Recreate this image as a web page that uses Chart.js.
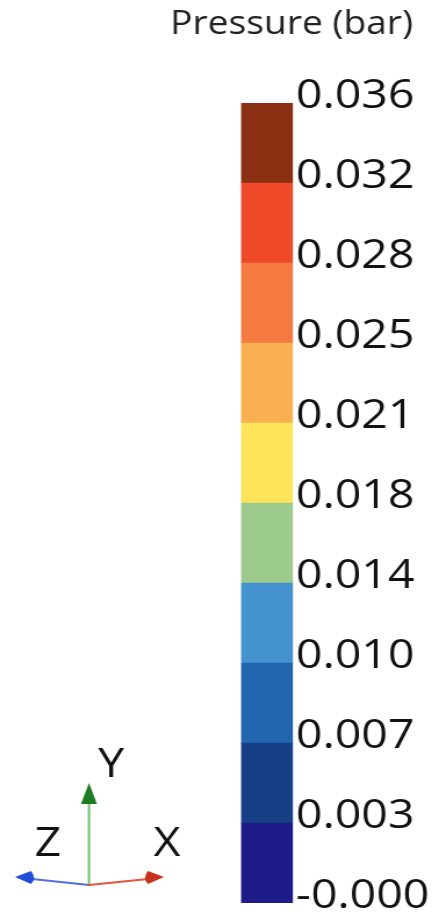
<!DOCTYPE html>
<html>
<head>
<meta charset="utf-8">
<script src="https://cdn.jsdelivr.net/npm/chart.js@4/dist/chart.umd.min.js"></script>
<style>
  html, body { margin: 0; padding: 0; background: #ffffff; overflow: hidden; }
  /* the legend is drawn on a narrower canvas and widened to the page width */
  #wrap { width: 378px; height: 916px; position: relative; transform: scaleX(1.1614); transform-origin: 0 0; }
</style>
</head>
<body>
<div id="wrap"><canvas id="c"></canvas></div>
<script>
// Colour bands of the pressure legend (bar), from low to high
const levels = [0, 0.0036, 0.0072, 0.0108, 0.0144, 0.018, 0.0216, 0.0252, 0.0288, 0.0324, 0.036];
const tickLabels = ['-0.000', '0.003', '0.007', '0.010', '0.014', '0.018', '0.021', '0.025', '0.028', '0.032', '0.036'];
const bandColors = ['#1d1b88', '#173f86', '#2265af', '#4493cf', '#9dcb8e', '#fde45a', '#f9b050', '#f47a42', '#ee4a2a', '#8a2f12'];
const categories = ['Pressure'];
const titleText = 'Pressure (bar)';

const FONT = '"Open Sans"';

const datasets = bandColors.map((color, i) => ({
  label: tickLabels[i] + ' – ' + tickLabels[i + 1],
  data: [[levels[i], levels[i + 1]]],
  backgroundColor: color,
  borderWidth: 0,
  barPercentage: 1,
  categoryPercentage: 1,
  grouped: false,
  yAxisID: 'y'
}));

// Legend heading, right-aligned above the colour bar
const heading = {
  id: 'heading',
  afterDraw(chart) {
    const ctx = chart.ctx;
    ctx.save();
    ctx.fillStyle = '#222222';
    ctx.font = '32px ' + FONT;
    ctx.textAlign = 'right';
    ctx.textBaseline = 'middle';
    ctx.fillText(titleText, 355.6, 25);
    ctx.restore();
  }
};

// Orientation triad drawn in the lower-left corner
const triad = {
  id: 'triad',
  afterDraw(chart) {
    const ctx = chart.ctx;
    const ox = 76.6, oy = 885;
    ctx.save();
    ctx.lineCap = 'round';
    ctx.lineWidth = 2;

    // Y (up)
    ctx.strokeStyle = '#72c172';
    ctx.beginPath(); ctx.moveTo(ox, oy); ctx.lineTo(ox, 802); ctx.stroke();
    ctx.fillStyle = '#1b7a22';
    ctx.beginPath(); ctx.moveTo(ox, 783); ctx.lineTo(ox + 6.9, 804); ctx.lineTo(ox - 6.9, 804); ctx.closePath(); ctx.fill();

    // Z (towards the left)
    ctx.strokeStyle = '#4f6fe4';
    ctx.beginPath(); ctx.moveTo(ox, oy); ctx.lineTo(27.6, 879); ctx.stroke();
    ctx.fillStyle = '#1f4fd8';
    ctx.beginPath(); ctx.moveTo(12.9, 877);
    ctx.lineTo(26.7, 871); ctx.quadraticCurveTo(31.9, 878, 26.7, 884); ctx.closePath(); ctx.fill();

    // X (towards the right)
    ctx.strokeStyle = '#e2553a';
    ctx.beginPath(); ctx.moveTo(ox, oy); ctx.lineTo(127.4, 879); ctx.stroke();
    ctx.fillStyle = '#c9321a';
    ctx.beginPath(); ctx.moveTo(141.2, 877);
    ctx.lineTo(127.4, 871); ctx.quadraticCurveTo(122.3, 878, 127.4, 884); ctx.closePath(); ctx.fill();

    ctx.fillStyle = '#111111';
    ctx.font = '40px ' + FONT;
    ctx.textAlign = 'center';
    ctx.textBaseline = 'middle';
    ctx.fillText('Y', 95.6, 766);
    ctx.fillText('Z', 41.3, 845);
    ctx.fillText('X', 143.8, 845);
    ctx.restore();
  }
};

new Chart(document.getElementById('c'), {
  type: 'bar',
  data: { labels: categories, datasets },
  options: {
    responsive: true,
    maintainAspectRatio: false,
    animation: false,
    layout: { padding: { top: 103, left: 0, right: 0, bottom: 13 } },
    plugins: {
      legend: { display: false },
      tooltip: { enabled: false },
      title: { display: false }
    },
    scales: {
      x: { display: false },
      yPad: {
        position: 'left',
        display: true,
        ticks: { display: false },
        grid: { display: false, drawTicks: false },
        border: { display: false },
        afterFit(s) { s.width = 207.5; s.paddingTop = 0; s.paddingBottom = 0; }
      },
      y: {
        position: 'right',
        min: levels[0],
        max: levels[levels.length - 1],
        grid: { display: false, drawTicks: false },
        border: { display: false },
        afterBuildTicks(s) { s.ticks = levels.map(v => ({ value: v })); },
        afterFit(s) { s.width = 125.7; s.paddingTop = 0; s.paddingBottom = 0; },
        ticks: {
          padding: 2.5,
          labelOffset: -6,
          color: '#111111',
          font: { family: FONT, size: 40 },
          callback: (v, i) => tickLabels[i]
        }
      }
    }
  },
  plugins: [heading, triad]
});
</script>
</body>
</html>
